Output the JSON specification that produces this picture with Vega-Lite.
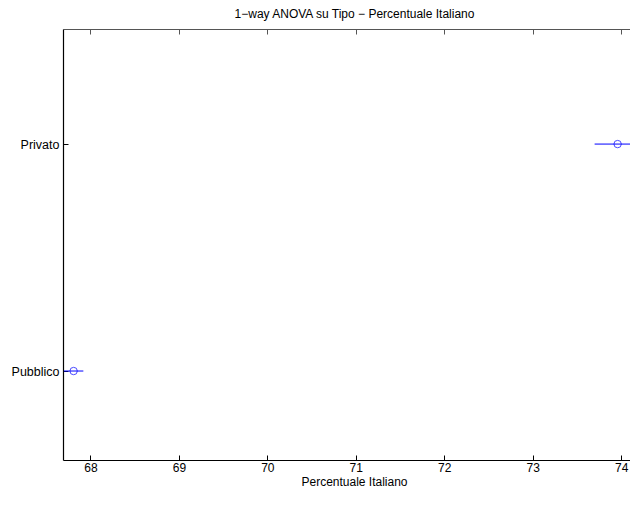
{
  "$schema": "https://vega.github.io/schema/vega-lite/v6.json",
  "width": 567,
  "height": 431,
  "autosize": {"type": "none"},
  "padding": {"left": 63, "top": 29, "right": 0, "bottom": 60},
  "background": "white",
  "title": {"text": "1−way ANOVA su Tipo − Percentuale Italiano", "font": "Liberation Sans", "fontSize": 12, "fontWeight": "normal", "color": "black", "anchor": "middle", "offset": 8, "dx": 8},
  "config": {"view": {"stroke": null}, "axis": {"grid": false}},
  "data": {"values": [
    {"Tipo": "Privato", "y": 2, "mean": 73.96, "lo": 73.70, "hi": 74.22},
    {"Tipo": "Pubblico", "y": 1, "mean": 67.81, "lo": 67.70, "hi": 67.92}
  ]},
  "encoding": {
    "y": {"field": "y", "type": "quantitative",
      "scale": {"domain": [0.608, 2.507], "nice": false, "zero": false},
      "axis": {"values": [1, 2], "labelExpr": "datum.value == 2 ? 'Privato' : 'Pubblico'", "title": null, "orient": "left",
        "domainColor": "black", "domainWidth": 1.2, "tickColor": "black", "tickSize": -5, "labelPadding": 9,
        "labelFont": "Liberation Sans", "labelFontSize": 12.5, "labelColor": "black"}}
  },
  "layer": [
    {"mark": {"type": "rule", "color": "#0000ff", "strokeWidth": 1, "clip": true},
     "encoding": {
       "x": {"field": "lo", "type": "quantitative",
         "scale": {"domain": [67.69, 74.10], "nice": false, "zero": false},
         "axis": {"orient": "bottom", "values": [68, 69, 70, 71, 72, 73, 74], "title": "Percentuale Italiano", "titleX": 291,
           "titleFont": "Liberation Sans", "titleFontSize": 12, "titleFontWeight": "normal", "titleColor": "black", "titlePadding": 3,
           "domainColor": "black", "domainWidth": 1.2, "tickColor": "black", "tickSize": -5, "labelPadding": 7,
           "labelFont": "Liberation Sans", "labelFontSize": 12, "labelColor": "black"}},
       "x2": {"field": "hi"}
     }},
    {"mark": {"type": "point", "shape": "circle", "filled": false, "color": "#0000ff", "strokeWidth": 1, "size": 55, "clip": true},
     "encoding": {
       "x": {"field": "mean", "type": "quantitative",
         "axis": {"orient": "top", "values": [68, 69, 70, 71, 72, 73, 74], "labels": false, "title": null,
           "domainColor": "#555555", "domainWidth": 1.2, "tickColor": "#555555", "tickSize": -5}}
     }}
  ],
  "resolve": {"axis": {"x": "independent"}}
}
